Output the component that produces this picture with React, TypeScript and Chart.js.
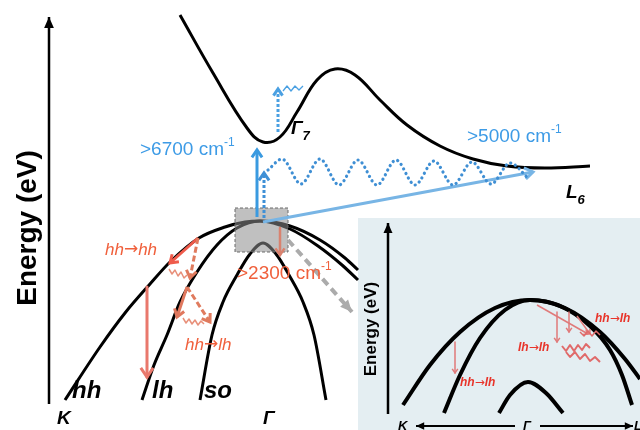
import React, { useEffect, useRef } from "react";
import { Chart, registerables } from "chart.js";

Chart.register(...registerables);

// ---------- main band diagram ----------
const cbX = [180, 213, 247, 263, 280, 297, 317, 335, 355, 380, 407, 440, 473, 507, 545, 590];
const cbY = [15, 73, 128, 142, 137, 112, 80, 69, 75, 100, 125, 146, 159, 166, 168, 166];

const hhX = [65, 100, 125, 150, 170, 199, 225, 245, 260, 290, 320, 345, 358];
const hhY = [400, 347, 313, 284, 262, 238, 227, 222, 221, 226, 240, 258, 270];
const lhX = [142, 154, 167, 180, 197, 217, 237, 260, 290, 318, 342, 358];
const lhY = [400, 365, 335, 302, 272, 245, 228, 221, 229, 246, 265, 280];
const soX = [200, 212, 223, 237, 250, 263, 276, 289, 303, 314, 326];
const soY = [400, 335, 302, 275, 254, 243, 254, 275, 302, 335, 400];

const axisX = [49, 49];
const axisY = [404, 17];

const boxX = [235, 288, 288, 235, 235];
const boxY = [208, 208, 252, 252, 208];

// blue (electron) transitions
const blueUpX = [257, 257];
const blueUpY = [217, 150];
const blueDotUpX = [264, 264];
const blueDotUpY = [218, 173];
const waveX = [268, 282, 301, 320, 339, 358, 377, 396, 415, 434, 453, 472, 491, 510, 528];
const waveY = [170, 159, 184, 159, 185, 160, 185, 160, 185, 161, 185, 162, 184, 163, 178];
const blueLongX = [263, 533];
const blueLongY = [222, 172];
const gammaUpX = [278, 278];
const gammaUpY = [132, 89];
const gammaWigX = [283, 287, 291, 295, 299, 303];
const gammaWigY = [91, 86, 91, 86, 90, 86];

// red (hole) transitions
const redAX = [198, 170];
const redAY = [238, 263];
const redBX = [198, 190];
const redBY = [238, 278];
const wig1X = [169, 172, 175, 178, 181, 184, 187];
const wig1Y = [269, 274, 270, 276, 272, 278, 275];
const redCX = [187, 177];
const redCY = [287, 317];
const redDX = [187, 210];
const redDY = [287, 322];
const wig2X = [183, 186, 189, 192, 195, 198, 201, 204];
const wig2Y = [318, 323, 319, 324, 320, 325, 321, 324];
const redVX = [147, 147];
const redVY = [287, 377];
const redBoxX = [280, 280];
const redBoxY = [228, 255];
const grayX = [288, 352];
const grayY = [240, 312];

// ---------- inset ----------
const panelX = [358, 640, 640, 358, 358];
const panelY = [218, 218, 430, 430, 218];
const inAxisX = [388, 388];
const inAxisY = [414, 223];
const inLeftX = [515, 416];
const inLeftY = [426, 426];
const inRightX = [540, 633];
const inRightY = [426, 426];
const inHhX = [403, 430, 460, 495, 530, 565, 600, 625, 640];
const inHhY = [405, 365, 332, 308, 300, 308, 332, 359, 379];
const inLhX = [444, 460, 480, 505, 530, 560, 590, 610, 622, 632];
const inLhY = [413, 375, 338, 310, 300, 306, 326, 350, 375, 405];
const inSoX = [499, 510, 528, 546, 563];
const inSoY = [413, 395, 382, 393, 413];
const inR1X = [455, 455];
const inR1Y = [342, 373];
const inR2X = [557, 557];
const inR2Y = [312, 342];
const inR3X = [537, 588];
const inR3Y = [305, 334];
const inR4X = [569, 569];
const inR4Y = [312, 332];
const inR5X = [577, 590];
const inR5Y = [316, 334];
const inW1X = [562, 566, 570, 574, 578, 582, 586, 590];
const inW1Y = [346, 351, 345, 351, 345, 350, 344, 348];
const inW2X = [566, 570, 575, 580, 585, 590, 595, 600];
const inW2Y = [352, 357, 352, 359, 354, 361, 357, 362];
const inW3X = [580, 584, 588, 592, 596, 600];
const inW3Y = [332, 336, 331, 336, 331, 335];

const FONT = '"Liberation Sans", Arial, Helvetica, sans-serif';
const ARROWFONT = '"DejaVu Sans", sans-serif';
const BLUE = "#3d9be6";
const RED = "#f0603c";
const INRED = "#e8342a";

type Part = { t: string; size?: number; dy?: number; fam?: string; weight?: string };
type Label = {
  parts: Part[];
  x: number;
  y: number;
  size: number;
  weight?: string;
  style?: string;
  color: string;
  align?: "left" | "center";
  rotate?: number;
};

const arr = (a: string, b: string): Part[] => [{ t: a }, { t: "\u2192", fam: ARROWFONT, weight: "normal" }, { t: b }];

const labels: Label[] = [
  { parts: [{ t: "Energy (eV)" }], x: 28, y: 228, size: 28, weight: "bold", color: "#000", align: "center", rotate: -Math.PI / 2 },
  { parts: [{ t: ">6700 cm" }, { t: "-1", size: 12, dy: -7 }], x: 140, y: 150, size: 19, color: BLUE },
  { parts: [{ t: ">5000 cm" }, { t: "-1", size: 12, dy: -7 }], x: 467, y: 137, size: 19, color: BLUE },
  { parts: [{ t: ">2300 cm" }, { t: "-1", size: 12, dy: -7 }], x: 237, y: 274, size: 19, color: RED },
  { parts: arr("hh", "hh"), x: 105, y: 250, size: 17, style: "italic", color: RED },
  { parts: arr("hh", "lh"), x: 185, y: 345, size: 17, style: "italic", color: RED },
  { parts: [{ t: "\u0393" }, { t: "7", size: 13, dy: 7 }], x: 291, y: 129, size: 19, weight: "bold", style: "italic", color: "#000" },
  { parts: [{ t: "L" }, { t: "6", size: 13, dy: 7 }], x: 566, y: 193, size: 19, weight: "bold", style: "italic", color: "#000" },
  { parts: [{ t: "hh" }], x: 72, y: 391, size: 24, weight: "bold", style: "italic", color: "#000" },
  { parts: [{ t: "lh" }], x: 152, y: 391, size: 24, weight: "bold", style: "italic", color: "#000" },
  { parts: [{ t: "so" }], x: 204, y: 391, size: 24, weight: "bold", style: "italic", color: "#000" },
  { parts: [{ t: "K" }], x: 57, y: 419, size: 19, weight: "bold", style: "italic", color: "#000" },
  { parts: [{ t: "\u0393" }], x: 263, y: 419, size: 19, weight: "bold", style: "italic", color: "#000" },
  // inset
  { parts: [{ t: "Energy (eV)" }], x: 371, y: 329, size: 17, weight: "bold", color: "#000", align: "center", rotate: -Math.PI / 2 },
  { parts: arr("hh", "lh"), x: 595, y: 319, size: 12, weight: "bold", style: "italic", color: INRED },
  { parts: arr("lh", "lh"), x: 518, y: 348, size: 12, weight: "bold", style: "italic", color: INRED },
  { parts: arr("hh", "lh"), x: 460, y: 383, size: 12, weight: "bold", style: "italic", color: INRED },
  { parts: [{ t: "K" }], x: 398, y: 426, size: 13, weight: "bold", style: "italic", color: "#000" },
  { parts: [{ t: "\u0393" }], x: 527, y: 426, size: 13, weight: "bold", style: "italic", color: "#000", align: "center" },
  { parts: [{ t: "L" }], x: 634, y: 426, size: 13, weight: "bold", style: "italic", color: "#000" },
];

const xy = (xs: number[], ys: number[]) => xs.map((x, i) => ({ x, y: ys[i] }));

type Opt = {
  color?: string;
  width?: number;
  dash?: number[];
  smooth?: boolean;
  tension?: number;
  arrow?: "open" | "filled";
  head?: number;
  fill?: string;
  cap?: CanvasLineCap;
};

function line(xs: number[], ys: number[], o: Opt) {
  return {
    data: xy(xs, ys),
    borderColor: o.color ?? "#000",
    borderWidth: o.width ?? 3,
    borderDash: o.dash ?? [],
    borderCapStyle: o.cap ?? "butt",
    borderJoinStyle: "round",
    pointRadius: 0,
    pointHoverRadius: 0,
    tension: o.tension ?? 0,
    cubicInterpolationMode: o.smooth ? "monotone" : "default",
    fill: o.fill ? "shape" : false,
    backgroundColor: o.fill ?? "transparent",
    arrow: o.arrow,
    head: o.head ?? 9,
  } as any;
}

const arrowPlugin = {
  id: "arrowheads",
  afterDatasetDraw(chart: any, args: any) {
    const ds = chart.data.datasets[args.index];
    if (!ds.arrow) return;
    const pts = args.meta.data;
    const a = pts[pts.length - 2];
    const b = pts[pts.length - 1];
    const ang = Math.atan2(b.y - a.y, b.x - a.x);
    const L = ds.head;
    const spread = ds.arrow === "filled" ? 0.42 : 0.6;
    const ctx = chart.ctx;
    ctx.save();
    ctx.setLineDash([]);
    const p1 = { x: b.x - L * Math.cos(ang - spread), y: b.y - L * Math.sin(ang - spread) };
    const p2 = { x: b.x - L * Math.cos(ang + spread), y: b.y - L * Math.sin(ang + spread) };
    ctx.beginPath();
    ctx.moveTo(p1.x, p1.y);
    ctx.lineTo(b.x, b.y);
    ctx.lineTo(p2.x, p2.y);
    if (ds.arrow === "filled") {
      ctx.closePath();
      ctx.fillStyle = ds.borderColor;
      ctx.fill();
    } else {
      ctx.strokeStyle = ds.borderColor;
      ctx.lineWidth = ds.borderWidth;
      ctx.lineJoin = "miter";
      ctx.lineCap = "butt";
      ctx.stroke();
    }
    ctx.restore();
  },
};

const textPlugin = {
  id: "texts",
  afterDatasetsDraw(chart: any) {
    const ctx = chart.ctx;
    const sx = chart.scales.x;
    const sy = chart.scales.y;
    for (const l of labels) {
      ctx.save();
      ctx.translate(sx.getPixelForValue(l.x), sy.getPixelForValue(l.y));
      if (l.rotate) ctx.rotate(l.rotate);
      ctx.fillStyle = l.color;
      ctx.textBaseline = "middle";
      ctx.textAlign = "left";
      const fontOf = (p: Part) =>
        `${l.style ?? "normal"} ${p.weight ?? l.weight ?? "normal"} ${p.size ?? l.size}px ${p.fam ?? FONT}`;
      let total = 0;
      const widths = l.parts.map((p) => {
        ctx.font = fontOf(p);
        const w = ctx.measureText(p.t).width;
        total += w;
        return w;
      });
      let cx = l.align === "center" ? -total / 2 : 0;
      l.parts.forEach((p, i) => {
        ctx.font = fontOf(p);
        ctx.fillText(p.t, cx, p.dy ?? 0);
        cx += widths[i];
      });
      ctx.restore();
    }
  },
};

export default function App() {
  const ref = useRef<HTMLCanvasElement | null>(null);
  useEffect(() => {
    if (!ref.current) return;
    const datasets = [
      line(panelX, panelY, { width: 0, fill: "#e4eef2", color: "rgba(0,0,0,0)" }),
      line(axisX, axisY, { width: 2.5, arrow: "filled", head: 12 }),
      line(cbX, cbY, { tension: 0.4, width: 3 }),
      line(hhX, hhY, { smooth: true, width: 3 }),
      line(lhX, lhY, { smooth: true, width: 3 }),
      line(soX, soY, { smooth: true, width: 3 }),
      line(boxX, boxY, { width: 1, dash: [3, 2], color: "#6b6b6b", fill: "rgba(140,140,140,0.55)" }),
      line(redBoxX, redBoxY, { width: 2.5, color: "#d9826f", arrow: "open", head: 8 }),
      line(grayX, grayY, { width: 4, dash: [8, 5], color: "#ababab", arrow: "filled", head: 13 }),
      line(redVX, redVY, { width: 3, color: "#e9786c", arrow: "open", head: 11 }),
      line(redAX, redAY, { width: 3, color: "#ef5b4b", arrow: "open", head: 9 }),
      line(redBX, redBY, { width: 3, dash: [6, 3], color: "#e07b5e", arrow: "open", head: 9 }),
      line(wig1X, wig1Y, { width: 1.5, color: "#e8907a" }),
      line(redCX, redCY, { width: 3, color: "#e0785e", arrow: "open", head: 9 }),
      line(redDX, redDY, { width: 3, dash: [6, 3], color: "#e07b5e", arrow: "open", head: 9 }),
      line(wig2X, wig2Y, { width: 1.5, color: "#e8907a" }),
      line(blueLongX, blueLongY, { width: 3, color: "#78b5e5", arrow: "open", head: 10 }),
      line(blueUpX, blueUpY, { width: 3, color: "#3a9ae0", arrow: "open", head: 9 }),
      line(blueDotUpX, blueDotUpY, { width: 3, dash: [3, 2], color: "#3f90d6", arrow: "open", head: 9 }),
      line(waveX, waveY, { smooth: true, width: 3.2, dash: [0.1, 5], cap: "round", color: "#3f8fd4" }),
      line(gammaUpX, gammaUpY, { width: 3, dash: [3, 2], color: "#4aa0e2", arrow: "open", head: 8 }),
      line(gammaWigX, gammaWigY, { width: 1.3, color: "#4aa0e2" }),
      // inset
      line(inAxisX, inAxisY, { width: 2.5, arrow: "filled", head: 11 }),
      line(inLeftX, inLeftY, { width: 2, arrow: "filled", head: 9 }),
      line(inRightX, inRightY, { width: 2, arrow: "filled", head: 9 }),
      line(inHhX, inHhY, { smooth: true, width: 4 }),
      line(inLhX, inLhY, { smooth: true, width: 4 }),
      line(inSoX, inSoY, { smooth: true, width: 4 }),
      line(inR1X, inR1Y, { width: 1.5, color: "#e07a7a", arrow: "open", head: 5 }),
      line(inR2X, inR2Y, { width: 1.5, color: "#e07a7a", arrow: "open", head: 5 }),
      line(inR3X, inR3Y, { width: 1.5, color: "#e07a7a", arrow: "open", head: 5 }),
      line(inR4X, inR4Y, { width: 1.5, color: "#e07a7a", arrow: "open", head: 5 }),
      line(inR5X, inR5Y, { width: 1.5, color: "#e07a7a", arrow: "open", head: 5 }),
      line(inW1X, inW1Y, { width: 2, color: "#e06a6a" }),
      line(inW2X, inW2Y, { width: 2, color: "#e06a6a" }),
      line(inW3X, inW3Y, { width: 1.5, color: "#e06a6a" }),
    ];
    datasets.forEach((d: any, i: number) => (d.order = -i));
    const chart = new Chart(ref.current, {
      type: "line",
      data: { datasets },
      options: {
        responsive: false,
        animation: false,
        devicePixelRatio: 1,
        events: [],
        layout: { padding: 0 },
        scales: {
          x: { type: "linear", min: 0, max: 640, display: false },
          y: { type: "linear", min: 0, max: 430, reverse: true, display: false },
        },
        plugins: { legend: { display: false }, tooltip: { enabled: false } },
      } as any,
      plugins: [arrowPlugin, textPlugin],
    });
    return () => chart.destroy();
  }, []);
  return (
    <div style={{ position: "absolute", left: 0, top: 0, width: 640, height: 430, background: "#fff" }}>
      <canvas ref={ref} width={640} height={430} />
    </div>
  );
}
